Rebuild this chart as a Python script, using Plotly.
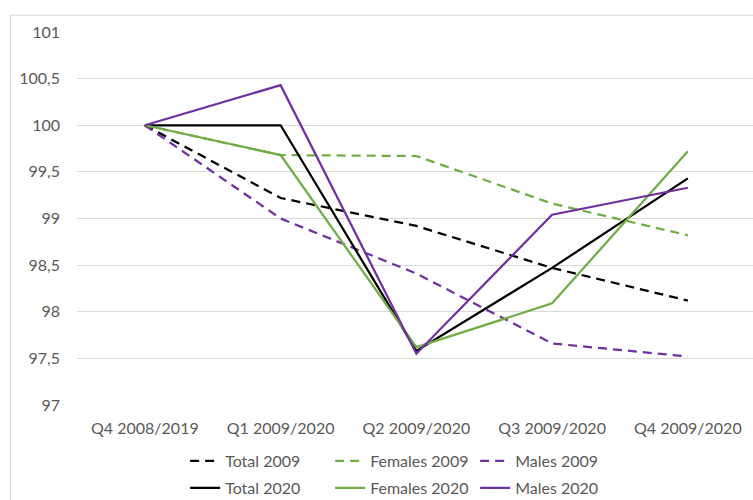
import plotly.graph_objects as go

quarters = ["Q4 2008/2019", "Q1 2009/2020", "Q2 2009/2020", "Q3 2009/2020", "Q4 2009/2020"]

total_2009 = [100, 99.22, 98.92, 98.47, 98.12]
females_2009 = [100, 99.68, 99.67, 99.16, 98.82]
males_2009 = [100, 99.0, 98.41, 97.66, 97.52]
total_2020 = [100, 100, 97.58, 98.47, 99.43]
females_2020 = [100, 99.68, 97.62, 98.09, 99.72]
males_2020 = [100, 100.43, 97.55, 99.04, 99.33]

y_ticks = [97, 97.5, 98, 98.5, 99, 99.5, 100, 100.5, 101]

BLACK = "#000000"
GREEN = "#70AD47"
PURPLE = "#7030A0"
TEXT = "#595959"
FONT = "Lato, Carlito, Calibri, sans-serif"

series = [
    ("Total 2009", total_2009, BLACK, "9px,6px", "legend"),
    ("Females 2009", females_2009, GREEN, "9px,6px", "legend"),
    ("Males 2009", males_2009, PURPLE, "9px,6px", "legend"),
    ("Total 2020", total_2020, BLACK, "solid", "legend2"),
    ("Females 2020", females_2020, GREEN, "solid", "legend2"),
    ("Males 2020", males_2020, PURPLE, "solid", "legend2"),
]

fig = go.Figure()
for name, vals, color, dash, leg in series:
    fig.add_trace(go.Scatter(
        x=quarters, y=vals, name=name, mode="lines",
        line=dict(color=color, width=2.25, dash=dash),
        legend=leg,
    ))

legend_style = dict(
    orientation="h", xanchor="left", yanchor="middle",
    font=dict(family=FONT, size=16, color=TEXT),
    entrywidth=100, entrywidthmode="pixels",
    bgcolor="rgba(0,0,0,0)", itemclick=False, itemdoubleclick=False,
    tracegroupgap=0,
)

fig.update_layout(
    width=753, height=500,
    margin=dict(l=77, r=0, t=32, b=95, autoexpand=False),
    paper_bgcolor="white", plot_bgcolor="white",
    separators=", ",
    font=dict(family=FONT, size=16, color=TEXT),
    legend=dict(x=0.160, y=-0.150, **legend_style),
    legend2=dict(x=0.160, y=-0.2225, **legend_style),
    xaxis=dict(
        type="category", range=[-0.5, 4.48],
        showgrid=False, showline=False, zeroline=False, ticks="",
        tickfont=dict(family=FONT, size=16, color=TEXT),
        ticklabelstandoff=12,
    ),
    yaxis=dict(
        range=[97, 101], tickvals=y_ticks,
        showgrid=True, gridcolor="#D9D9D9", gridwidth=1,
        showline=False, zeroline=False, ticks="",
        tickfont=dict(family=FONT, size=16, color=TEXT),
        ticklabelstandoff=16,
    ),
    shapes=[dict(
        type="rect", xref="paper", yref="paper",
        x0=-0.0985, x1=1.05, y0=-0.5, y1=1.045,
        line=dict(color="#D9D9D9", width=1), fillcolor="rgba(0,0,0,0)",
        layer="below",
    )],
)

fig.write_html("out.html")
